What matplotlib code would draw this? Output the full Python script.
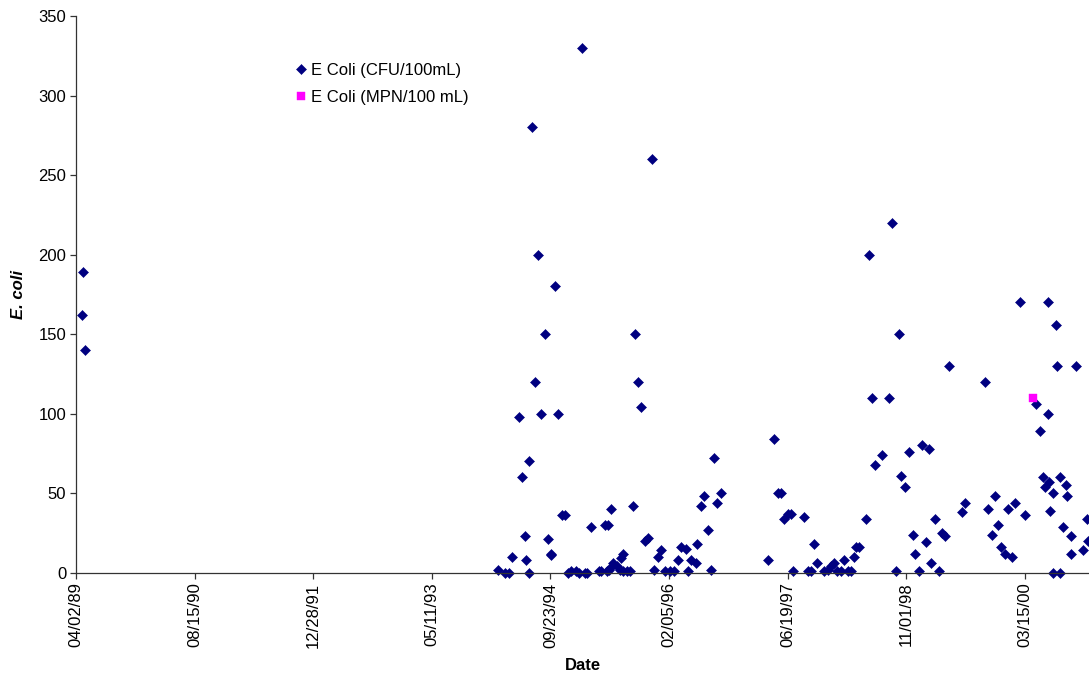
import matplotlib
matplotlib.use("Agg")
import matplotlib.pyplot as plt
import matplotlib.dates as mdates
import pandas as pd
import numpy as np

plt.rcParams['font.family'] = ['Liberation Sans', 'DejaVu Sans']

# E. coli counts (CFU/100mL) by sample date
cfu_dates = [
    '1989-04-26', '1989-05-01', '1989-05-10',
    '1994-02-13', '1994-03-16', '1994-04-03', '1994-04-13', '1994-05-12', '1994-05-25',
    '1994-06-09', '1994-06-12', '1994-06-23', '1994-06-24', '1994-07-06', '1994-07-20',
    '1994-08-03', '1994-08-16', '1994-08-31', '1994-09-14', '1994-09-25', '1994-09-27',
    '1994-10-12', '1994-10-26', '1994-11-11', '1994-11-25', '1994-12-07', '1994-12-19',
    '1995-01-08', '1995-01-20', '1995-02-02', '1995-02-15', '1995-02-26', '1995-03-15',
    '1995-04-17', '1995-04-24', '1995-05-11', '1995-05-18', '1995-05-25', '1995-05-26',
    '1995-06-01', '1995-06-05', '1995-06-15', '1995-06-29', '1995-07-13', '1995-07-16',
    '1995-07-25', '1995-07-27', '1995-08-11', '1995-08-25', '1995-09-05', '1995-09-13',
    '1995-09-29', '1995-10-10', '1995-10-27', '1995-11-07', '1995-11-24', '1995-12-05',
    '1995-12-19',
    '1996-01-03', '1996-01-19', '1996-02-09', '1996-02-28', '1996-03-13', '1996-03-28',
    '1996-04-15', '1996-04-24', '1996-05-06', '1996-05-27', '1996-06-04', '1996-06-18',
    '1996-07-02', '1996-07-17', '1996-08-02', '1996-08-12', '1996-08-27', '1996-09-12',
    '1997-03-27', '1997-04-24', '1997-05-08', '1997-05-22', '1997-06-05', '1997-06-19',
    '1997-07-03', '1997-07-11', '1997-08-27', '1997-09-11', '1997-09-25', '1997-10-09',
    '1997-10-23', '1997-11-21', '1997-12-06', '1997-12-21',
    '1998-01-02', '1998-01-15', '1998-01-30', '1998-02-12', '1998-02-27', '1998-03-13',
    '1998-03-24', '1998-04-03', '1998-04-17', '1998-05-14', '1998-05-27', '1998-06-10',
    '1998-06-24', '1998-07-23', '1998-08-20', '1998-09-03', '1998-09-17', '1998-10-02',
    '1998-10-10', '1998-10-28', '1998-11-13', '1998-11-30', '1998-12-10', '1998-12-24',
    '1999-01-07', '1999-01-22', '1999-02-04', '1999-02-12', '1999-03-02', '1999-03-19',
    '1999-03-31', '1999-04-14', '1999-04-30', '1999-06-23', '1999-07-07', '1999-09-29',
    '1999-10-13', '1999-10-27', '1999-11-10', '1999-11-23', '1999-12-06', '1999-12-22',
    '2000-01-05', '2000-01-20', '2000-02-03', '2000-02-24', '2000-03-15', '2000-05-01',
    '2000-05-18', '2000-05-30', '2000-06-08', '2000-06-20', '2000-06-22', '2000-06-23',
    '2000-06-28', '2000-07-10', '2000-07-12', '2000-07-26', '2000-07-27', '2000-08-09',
    '2000-08-10', '2000-08-23', '2000-09-06', '2000-09-07', '2000-09-26', '2000-09-27',
    '2000-10-18', '2000-11-14', '2000-12-01', '2000-12-08',
]
cfu_values = [
    162, 189, 140,
    2, 0, 0, 10, 98, 60,
    23, 8, 70, 0, 280, 120,
    200, 100, 150, 21, 12, 11,
    180, 100, 36, 36, 0, 1,
    1, 0, 330, 0, 0, 29,
    1, 1, 30, 1, 30, 2,
    3, 40, 6, 4, 2, 9,
    12, 1, 1, 1, 42, 150,
    120, 104, 20, 22, 260, 2,
    10,
    14, 1, 1, 1, 8, 16,
    15, 1, 8, 6, 18, 42,
    48, 27, 2, 72, 44, 50,
    8, 84, 50, 50, 34, 37,
    37, 1, 35, 1, 1, 18,
    6, 1, 2, 4,
    6, 1, 1, 8, 1, 1,
    10, 16, 16, 34, 200, 110,
    68, 74, 110, 220, 1, 150,
    61, 54, 76, 24, 12, 1,
    80, 19, 78, 6, 34, 1,
    25, 23, 130, 38, 44, 120,
    40, 24, 48, 30, 16, 12,
    40, 10, 44, 170, 36, 106,
    89, 60, 54, 100, 170, 57,
    39, 0, 50, 156, 130, 60,
    0, 29, 55, 48, 23, 12,
    130, 14, 34, 20,
]

# E. coli (MPN/100 mL)
mpn_dates = ['2000-04-19']
mpn_values = [110]

start = pd.Timestamp('1989-04-02')
tick_dates = pd.date_range(start, periods=9, freq='500D')

fig = plt.figure(figsize=(10.89, 6.76), dpi=100)
ax = fig.add_axes([76 / 1089, 103.3 / 676, 1024 / 1089, 556.7 / 676])

ax.plot(pd.to_datetime(cfu_dates), cfu_values, linestyle='none', marker='D',
        ms=5.0, color='#000080', mec='#000080', mew=0.4, clip_on=False,
        label='E Coli (CFU/100mL)')
ax.plot(pd.to_datetime(mpn_dates), mpn_values, linestyle='none', marker='s',
        ms=6.2, color='#ff00ff', mec='#ff00ff', mew=0.3, clip_on=False,
        label='E Coli (MPN/100 mL)')

ax.set_ylim(0, 350)
ax.set_yticks(np.arange(0, 351, 50))
ax.set_xlim(start, pd.Timestamp('2001-01-26'))
ax.set_xticks(tick_dates)
ax.xaxis.set_major_formatter(mdates.DateFormatter('%m/%d/%y'))
plt.setp(ax.get_xticklabels(), rotation=90)

for side in ['top', 'right']:
    ax.spines[side].set_visible(False)
for side in ['left', 'bottom']:
    ax.spines[side].set_color('#333333')
    ax.spines[side].set_linewidth(0.9)
ax.tick_params(direction='out', length=4, width=0.9, color='#333333',
               labelsize=12, pad=3)

ax.set_ylabel('E. coli', fontsize=12, fontweight='bold', style='italic',
              va='center')
ax.set_xlabel('Date', fontsize=12, fontweight='bold', va='center')
ax.yaxis.set_label_coords(-0.0566, 0.5)
ax.xaxis.set_label_coords(0.495, -0.166)

ax.legend(loc='upper left', bbox_to_anchor=(0.203, 0.937), frameon=False,
          fontsize=12, handlelength=0.6, handletextpad=0.3,
          labelspacing=0.72, borderpad=0.2)

plt.savefig('out.png', dpi=100)
